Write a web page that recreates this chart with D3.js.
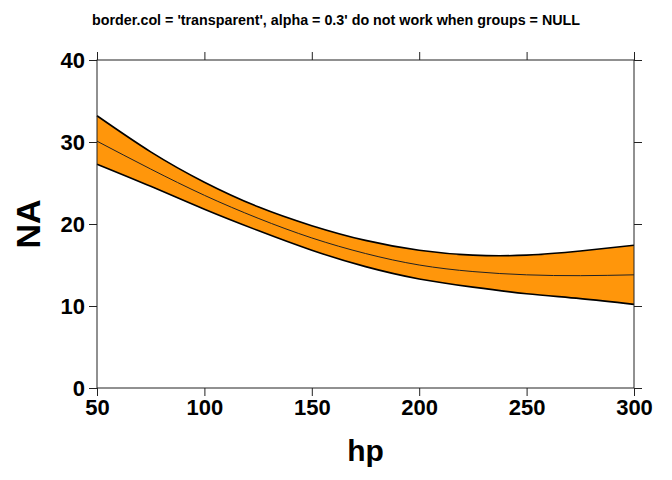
<!DOCTYPE html>
<html>
<head>
<meta charset="utf-8">
<script src="https://cdn.jsdelivr.net/npm/d3@7"></script>
<style>
  body { margin: 0; background: #fff; }
  text { font-family: "Liberation Sans", Arial, sans-serif; font-weight: bold; }
</style>
</head>
<body>
<script>
// values
const hp    = [50, 75, 100, 125, 150, 175, 200, 225, 250, 275, 300];
const fit   = [30.1, 26.7, 23.5, 20.7, 18.3, 16.4, 15.0, 14.2, 13.8, 13.7, 13.8];
const upper = [33.2, 28.8, 25.1, 22.1, 19.8, 18.0, 16.8, 16.2, 16.2, 16.7, 17.4];
const lower = [27.3, 24.6, 21.8, 19.2, 16.8, 14.8, 13.3, 12.3, 11.5, 10.9, 10.2];
const xTicks = [50, 100, 150, 200, 250, 300];
const yTicks = [0, 10, 20, 30, 40];

const W = 672, H = 480;
const margin = { top: 60, right: 38, bottom: 92, left: 97 };
const width = W - margin.left - margin.right;
const height = H - margin.top - margin.bottom;

const svg = d3.select("body").append("svg")
    .attr("width", W)
    .attr("height", H);

svg.append("text")
    .attr("x", W / 2)
    .attr("y", 25)
    .attr("text-anchor", "middle")
    .attr("font-size", "14.3px")
    .text("border.col = 'transparent', alpha = 0.3' do not work when groups = NULL");

const g = svg.append("g")
    .attr("transform", "translate(" + margin.left + "," + margin.top + ")");

const xScale = d3.scaleLinear().domain([50, 300]).range([0, width]);
const yScale = d3.scaleLinear().domain([0, 40]).range([height, 0]);

const data = hp.map((d, i) => ({ hp: d, fit: fit[i], upr: upper[i], lwr: lower[i] }));

// band
const area = d3.area()
    .x(d => xScale(d.hp))
    .y0(d => yScale(d.lwr))
    .y1(d => yScale(d.upr))
    .curve(d3.curveNatural);

g.append("path")
    .datum(data)
    .attr("d", area)
    .attr("fill", "#ff960b")
    .attr("stroke", "none");

const line = key => d3.line()
    .x(d => xScale(d.hp))
    .y(d => yScale(d[key]))
    .curve(d3.curveNatural);

g.append("path").datum(data).attr("d", line("upr"))
    .attr("fill", "none").attr("stroke", "#000").attr("stroke-width", 1.6);
g.append("path").datum(data).attr("d", line("lwr"))
    .attr("fill", "none").attr("stroke", "#000").attr("stroke-width", 1.6);
g.append("path").datum(data).attr("d", line("fit"))
    .attr("fill", "none").attr("stroke", "#222").attr("stroke-width", 1);

// axes on all four sides, lattice style
const tick = 8;
const xAxis = d3.axisBottom(xScale).tickValues(xTicks).tickSize(tick).tickPadding(3);
const yAxis = d3.axisLeft(yScale).tickValues(yTicks).tickSize(tick).tickPadding(4);
const xTop = d3.axisTop(xScale).tickValues(xTicks).tickSize(tick).tickFormat("");
const yRight = d3.axisRight(yScale).tickValues(yTicks).tickSize(tick).tickFormat("");

function style(sel) {
    sel.select(".domain").remove();
    sel.selectAll(".tick line").attr("stroke", "#222").attr("stroke-width", 1);
    sel.selectAll(".tick text").attr("fill", "#000")
        .attr("font-size", "22px")
        .style("font-family", "'Liberation Sans', Arial, sans-serif")
        .style("font-weight", "bold");
}

g.append("g").attr("class", "x-axis")
    .attr("transform", "translate(0," + height + ")")
    .call(xAxis).call(style);
g.append("g").attr("class", "y-axis").call(yAxis).call(style);
g.append("g").attr("class", "x-top").call(xTop).call(style);
g.append("g").attr("class", "y-right")
    .attr("transform", "translate(" + width + ",0)")
    .call(yRight).call(style);

// panel box
g.append("rect")
    .attr("width", width).attr("height", height)
    .attr("fill", "none").attr("stroke", "#222").attr("stroke-width", 1);

// axis labels
svg.append("text")
    .attr("x", margin.left + width / 2)
    .attr("y", 461)
    .attr("text-anchor", "middle")
    .attr("font-size", "30px")
    .text("hp");

svg.append("text")
    .attr("transform", "translate(40," + (margin.top + height / 2) + ") rotate(-90)")
    .attr("text-anchor", "middle")
    .attr("font-size", "34px")
    .text("NA");
</script>
</body>
</html>
